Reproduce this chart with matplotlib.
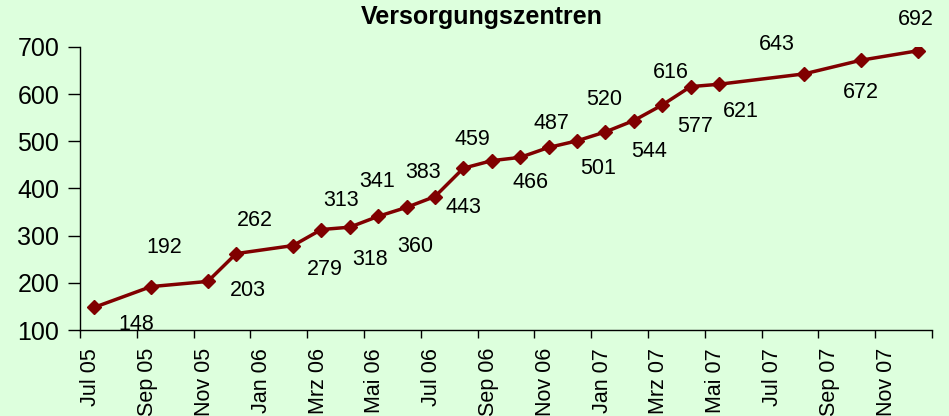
import numpy as np
import matplotlib.pyplot as plt
from matplotlib.transforms import ScaledTranslation

# data: month index counted from Jul 05, value
months = [0, 2, 4, 5, 7, 8, 9, 10, 11, 12, 13, 14, 15, 16, 17, 18, 19, 20, 21, 22, 25, 27, 29]
values = [148, 192, 203, 262, 279, 313, 318, 341, 360, 383, 443, 459, 466, 487, 501,
          520, 544, 577, 616, 621, 643, 672, 692]
tick_labels = ["Jul 05", "Sep 05", "Nov 05", "Jan 06", "Mrz 06", "Mai 06", "Jul 06",
               "Sep 06", "Nov 06", "Jan 07", "Mrz 07", "Mai 07", "Jul 07", "Sep 07", "Nov 07"]

# label offsets (pixels) relative to each point
offsets = [(42, -17), (13, 39), (40, -9), (19, 33), (32, -24), (20, 29), (20, -32),
           (-1, 35), (9, -39), (-12, 24), (0, -39), (-19, 21), (10, -25), (3, 24),
           (21, -28), (-1, 32), (15, -31), (33, -21), (-20, 14), (22, -27), (-27, 29),
           (0, -32), (-2, 31)]

plt.rcParams["font.family"] = ["Liberation Sans", "DejaVu Sans"]
bg = "#DDFFDD"
red = "#800000"

fig = plt.figure(figsize=(9.49, 4.16), dpi=100, facecolor=bg)
ax = fig.add_axes([80 / 949, 1 - 330 / 416, 852 / 949, 283 / 416])
ax.set_facecolor(bg)

x = np.array(months) + 0.5
ax.plot(x, values, color=red, lw=2.5, marker="D", ms=7, mec=red, mfc=red)

for xi, v, (dx, dy) in zip(x, values, offsets):
    ax.annotate(str(v), (xi, v), xytext=(dx, dy), textcoords="offset pixels",
                ha="center", va="center", fontsize=15.5, color="black")

ax.set_xlim(0, 30)
ax.set_ylim(100, 700)
ax.set_yticks(range(100, 701, 100))
ax.set_xticks(range(0, 31, 2))
ax.set_xticklabels(tick_labels + [""], rotation=90, va="top", ha="center")
ax.tick_params(axis="y", labelsize=18, length=9, width=1, pad=6, colors="black")
ax.tick_params(axis="x", labelsize=15.5, length=6, width=1, pad=7, colors="black")
for lab in ax.get_xticklabels():
    lab.set_transform(lab.get_transform() + ScaledTranslation(0.11, 0, fig.dpi_scale_trans))

for s in ["top", "right"]:
    ax.spines[s].set_visible(False)
for s in ["left", "bottom"]:
    ax.spines[s].set_linewidth(1)

fig.text(482 / 949, 1 - 17 / 416, "Versorgungszentren", ha="center", va="center",
         fontsize=18, fontweight="bold")

fig.savefig("out.png", dpi=100, facecolor=bg)
